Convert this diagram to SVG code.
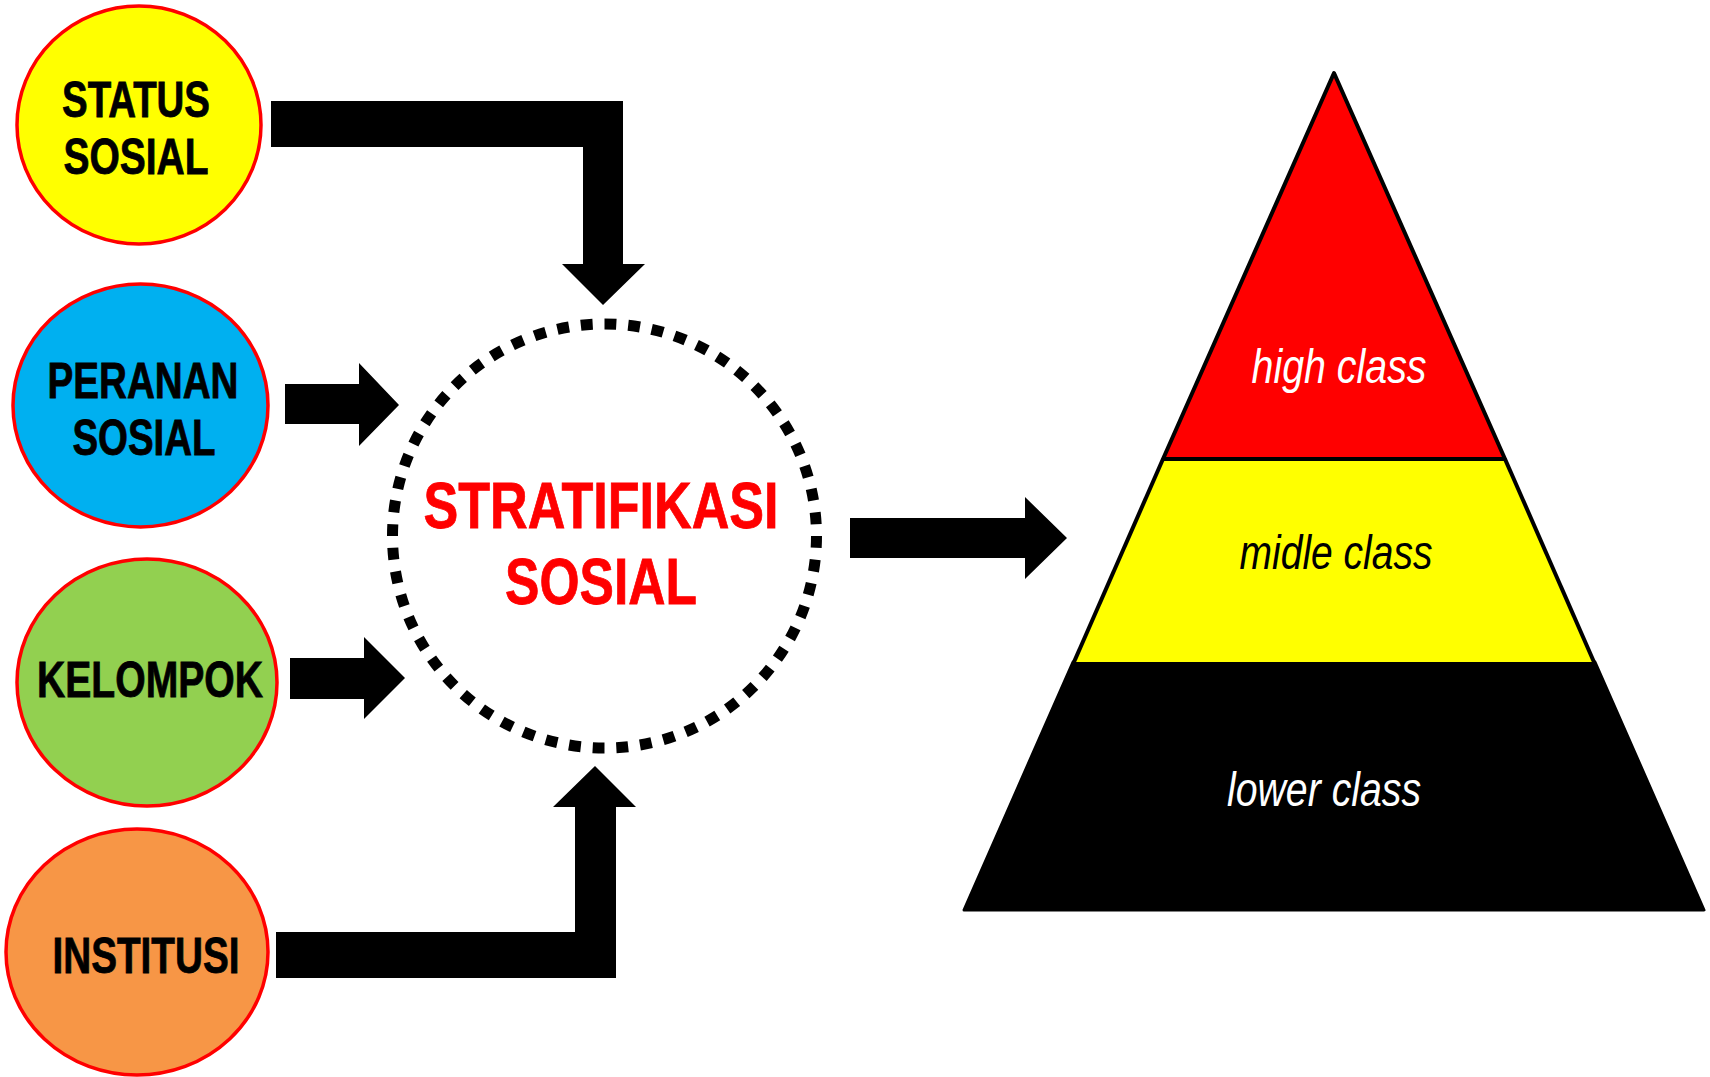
<svg xmlns="http://www.w3.org/2000/svg" width="1710" height="1077" viewBox="0 0 1710 1077">
  <style>
    .bubble { stroke: #FF0000; stroke-width: 3.5; }
    .lbl { font-family: "Liberation Sans", Arial, sans-serif; font-weight: bold; font-size: 50px; fill: #000000; stroke: #000000; stroke-width: 0.8; text-anchor: middle; }
    .core { font-family: "Liberation Sans", Arial, sans-serif; font-weight: bold; font-size: 65px; fill: #FF0000; stroke: #FF0000; stroke-width: 0.8; text-anchor: middle; }
    .tier { font-family: "Liberation Sans", Arial, sans-serif; font-style: italic; font-size: 48px; text-anchor: middle; }
    .arrow { fill: #000000; }
  </style>
  <rect width="1710" height="1077" fill="#FFFFFF"/>

  <!-- source nodes -->
  <g id="status-sosial">
    <ellipse class="bubble" cx="139" cy="125" rx="122" ry="119" fill="#FFFF00"/>
    <text class="lbl" x="136" y="117" textLength="148" lengthAdjust="spacingAndGlyphs">STATUS</text>
    <text class="lbl" x="136" y="174" textLength="145" lengthAdjust="spacingAndGlyphs">SOSIAL</text>
  </g>
  <g id="peranan-sosial">
    <ellipse class="bubble" cx="140.5" cy="405.5" rx="127.5" ry="121.5" fill="#00B0F0"/>
    <text class="lbl" x="143" y="398" textLength="191" lengthAdjust="spacingAndGlyphs">PERANAN</text>
    <text class="lbl" x="144" y="455" textLength="143" lengthAdjust="spacingAndGlyphs">SOSIAL</text>
  </g>
  <g id="kelompok">
    <ellipse class="bubble" cx="147" cy="682.5" rx="130" ry="123.5" fill="#92D050"/>
    <text class="lbl" x="150" y="697" textLength="226" lengthAdjust="spacingAndGlyphs">KELOMPOK</text>
  </g>
  <g id="institusi">
    <ellipse class="bubble" cx="137" cy="952" rx="131" ry="123" fill="#F79646"/>
    <text class="lbl" x="146" y="973" textLength="187" lengthAdjust="spacingAndGlyphs">INSTITUSI</text>
  </g>

  <!-- central node -->
  <g id="stratifikasi-sosial">
    <path d="M392.5,536 A212,212 0 1,1 816.5,536 A212,212 0 1,1 392.5,536 Z" fill="none" stroke="#000000" stroke-width="11" pathLength="56" stroke-dasharray="0.5 0.5"/>
    <text class="core" x="601" y="528" textLength="355" lengthAdjust="spacingAndGlyphs">STRATIFIKASI</text>
    <text class="core" x="601" y="604" textLength="192" lengthAdjust="spacingAndGlyphs">SOSIAL</text>
  </g>

  <!-- pyramid of classes -->
  <g id="pyramid">
    <polygon points="1073,662 1595,662 1704,910 964,910" fill="#000000" stroke="#000000" stroke-width="3" stroke-linejoin="round"/>
    <polygon points="1163,459 1505,459 1594,662 1074,662" fill="#FFFF00"/>
    <line x1="1163" y1="459" x2="1074" y2="662" stroke="#000000" stroke-width="4"/>
    <line x1="1505" y1="459" x2="1594" y2="662" stroke="#000000" stroke-width="4"/>
    <polygon points="1334,73 1505,459 1163,459" fill="#FF0000" stroke="#000000" stroke-width="4" stroke-linejoin="round"/>
    <text class="tier" x="1339" y="383" fill="#FFFFFF" textLength="175" lengthAdjust="spacingAndGlyphs">high class</text>
    <text class="tier" x="1336" y="569" fill="#000000" textLength="193" lengthAdjust="spacingAndGlyphs">midle class</text>
    <text class="tier" x="1324" y="806" fill="#FFFFFF" textLength="194" lengthAdjust="spacingAndGlyphs">lower class</text>
  </g>

  <!-- connectors -->
  <g id="connectors">
    <polygon class="arrow" points="271,101 623,101 623,264 645,264 603,305 562,264 583,264 583,147 271,147"/>
    <polygon class="arrow" points="285,384 359,384 359,363 399,405 359,446 359,424 285,424"/>
    <polygon class="arrow" points="290,658 364,658 364,637 405,678 364,719 364,699 290,699"/>
    <polygon class="arrow" points="276,932 575,932 575,807 553,807 595,766 636,807 616,807 616,978 276,978"/>
    <polygon class="arrow" points="850,518 1025,518 1025,497 1067,538 1025,579 1025,558 850,558"/>
  </g>
</svg>
